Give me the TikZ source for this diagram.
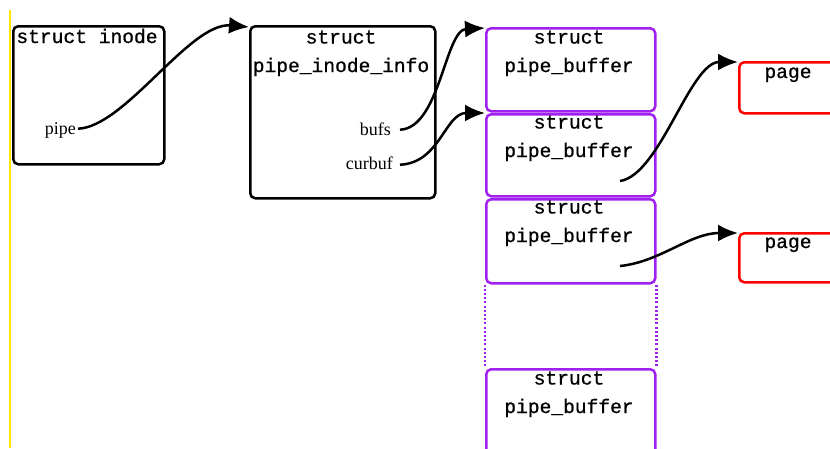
\documentclass[tikz,border=0pt]{standalone}
\usepackage{fontspec}
\setmainfont{Liberation Serif}
\setmonofont[FakeBold=0.8]{Liberation Mono}
\usetikzlibrary{arrows.meta}
\definecolor{pbcol}{RGB}{160,32,240}
\definecolor{pgcol}{RGB}{255,0,0}
\definecolor{ylw}{RGB}{250,230,0}
\tikzset{
  bbox/.style={draw=black, line width=2.5pt, rounded corners=5pt, inner sep=0pt, anchor=north west},
  pbox/.style={draw=pbcol, line width=2.5pt, rounded corners=5pt, inner sep=0pt, anchor=north west},
  gbox/.style={draw=pgcol, line width=2.5pt, rounded corners=5pt, inner sep=0pt, anchor=north west},
  ttl/.style={font=\fontsize{19.6pt}{28.5pt}\selectfont\ttfamily, align=center, anchor=base, inner sep=0pt},
  lbl/.style={font=\fontsize{18pt}{20pt}\selectfont\rmfamily, anchor=base east, inner sep=0pt},
  ptr/.style={line width=2.5pt, -{Latex[length=20pt,width=17pt]}},
}
\begin{document}
\begin{tikzpicture}[x=1pt,y=-1pt]
\useasboundingbox (0,0) rectangle (830,448);
% yellow edge line
\draw[ylw, line width=2pt] (10,10) -- (10,448);
% boxes
\node[bbox, minimum width=151pt, minimum height=138pt] (inode) at (12,25) {};
\node[bbox, minimum width=185pt, minimum height=172pt] (pinfo) at (249,25) {};
\node[pbox, minimum width=169pt, minimum height=83pt] (pb1) at (485,27) {};
\node[pbox, minimum width=169pt, minimum height=82pt] (pb2) at (485,113) {};
\node[pbox, minimum width=169pt, minimum height=84pt] (pb3) at (485,198) {};
\node[pbox, minimum width=169pt, minimum height=90pt] (pb4) at (485,368) {};
\node[gbox, minimum width=101pt, minimum height=51pt] (page1) at (738,61) {};
\node[gbox, minimum width=101pt, minimum height=49pt] (page2) at (738,232) {};
% dotted continuation
\draw[pbcol, line width=2.5pt, dash pattern=on 2pt off 2.2pt] (pb3.south west) -- (pb4.north west);
\draw[pbcol, line width=2.5pt, dash pattern=on 2pt off 2.2pt] (pb3.south east) -- (pb4.north east);
% titles (anchor base = baseline of last line)
\node[ttl] (tinode) at (87,43) {struct inode};
\node[ttl] (tpinfo) at (341,72) {struct\\pipe\_inode\_info};
\node[ttl] (tpb1) at (569,72) {struct\\pipe\_buffer};
\node[ttl] (tpb2) at (569,157) {struct\\pipe\_buffer};
\node[ttl] (tpb3) at (569,242) {struct\\pipe\_buffer};
\node[ttl] (tpb4) at (569,413) {struct\\pipe\_buffer};
\node[ttl] (tpage1) at (788,78) {page};
\node[ttl] (tpage2) at (788,248) {page};
% field labels
\node[lbl] (pipe) at (76,134) {pipe};
\node[lbl] (bufs) at (391,135) {bufs};
\node[lbl] (curbuf) at (393,169) {curbuf};
% pointer sources inside buffers
\coordinate (src2) at (620,181);
\coordinate (src3) at (620,266);
% pointers
\draw[ptr] ([xshift=2pt,yshift=3pt]pipe.mid east) .. controls (125,127) and (190,22) .. ([yshift=-2pt]pinfo.north west);
\draw[ptr] ([xshift=9pt,yshift=3pt]bufs.mid east) .. controls (440,128) and (445,30) .. ([yshift=-1pt]pb1.north west);
\draw[ptr] ([xshift=7pt,yshift=2pt]curbuf.mid east) .. controls (440,163) and (445,113) .. (pb2.north west);
\draw[ptr] (src2) .. controls (660,175) and (690,62) .. ([yshift=-1pt]page1.north west);
\draw[ptr] (src3) .. controls (660,262) and (690,233) .. ([yshift=-1pt]page2.north west);
\end{tikzpicture}
\end{document}
